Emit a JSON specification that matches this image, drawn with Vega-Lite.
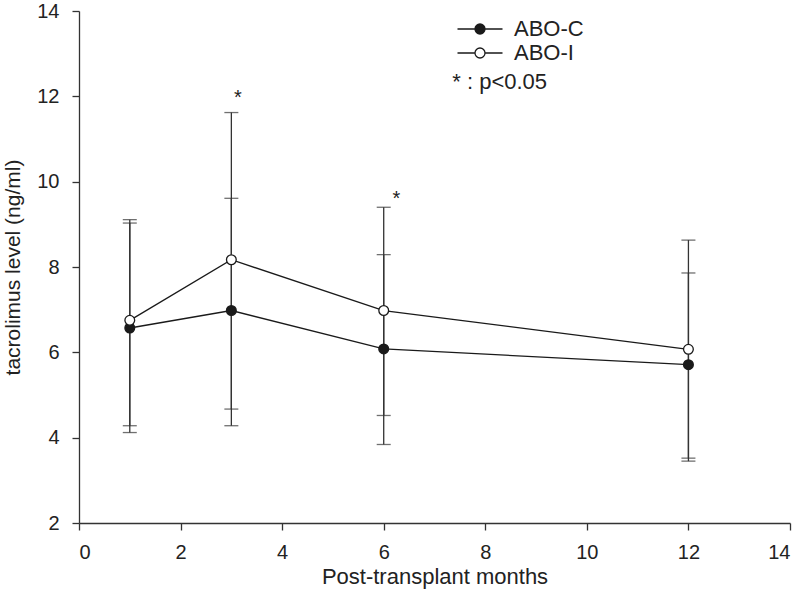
{
  "$schema": "https://vega.github.io/schema/vega-lite/v6.json",
  "width": 711,
  "height": 512,
  "autosize": {"type": "none"},
  "padding": {"left": 79, "top": 11, "right": 10, "bottom": 74},
  "background": "white",
  "config": {
    "view": {"stroke": null},
    "font": "Liberation Sans",
    "axis": {
      "grid": false,
      "domainColor": "#333333",
      "domainWidth": 1.3,
      "tickColor": "#333333",
      "tickWidth": 1.3,
      "tickSize": 7,
      "labelFont": "Liberation Sans",
      "labelFontSize": 20,
      "labelColor": "#222222",
      "titleFont": "Liberation Sans",
      "titleFontSize": 22,
      "titleFontWeight": "normal",
      "titleColor": "#222222"
    }
  },
  "datasets": {
    "stats": [
      {"month": 1, "group": "ABO-C", "mean": 6.57, "lo": 4.12, "hi": 9.03},
      {"month": 3, "group": "ABO-C", "mean": 6.98, "lo": 4.28, "hi": 9.61},
      {"month": 6, "group": "ABO-C", "mean": 6.08, "lo": 3.84, "hi": 8.29},
      {"month": 12, "group": "ABO-C", "mean": 5.71, "lo": 3.45, "hi": 7.86},
      {"month": 1, "group": "ABO-I", "mean": 6.75, "lo": 4.28, "hi": 9.11},
      {"month": 3, "group": "ABO-I", "mean": 8.17, "lo": 4.67, "hi": 11.62},
      {"month": 6, "group": "ABO-I", "mean": 6.98, "lo": 4.52, "hi": 9.4},
      {"month": 12, "group": "ABO-I", "mean": 6.07, "lo": 3.52, "hi": 8.63}
    ],
    "stars": [
      {"x": 3.13, "y": 11.82, "label": "*"},
      {"x": 6.25, "y": 9.46, "label": "*"}
    ],
    "note": [
      {"x": 7.35, "y": 12.18, "label": "* : p<0.05"}
    ]
  },
  "layer": [
    {
      "data": {"name": "stats"},
      "mark": {"type": "rule", "color": "#333333", "strokeWidth": 1.3},
      "encoding": {
        "x": {"field": "month", "type": "quantitative",
              "scale": {"domain": [0, 14], "nice": false},
              "axis": {"values": [0, 2, 4, 6, 8, 10, 12, 14], "title": "Post-transplant months", "labelPadding": 12, "titlePadding": 4}},
        "y": {"field": "lo", "type": "quantitative",
              "scale": {"domain": [2, 14], "nice": false},
              "axis": {"values": [2, 4, 6, 8, 10, 12, 14], "title": "tacrolimus level (ng/ml)", "labelPadding": 13, "titlePadding": 13, "titleFontSize": 21}},
        "y2": {"field": "hi"}
      }
    },
    {
      "data": {"name": "stats"},
      "mark": {"type": "tick", "orient": "horizontal", "color": "#333333", "size": 14, "thickness": 1.3},
      "encoding": {
        "x": {"field": "month", "type": "quantitative"},
        "y": {"field": "lo", "type": "quantitative"}
      }
    },
    {
      "data": {"name": "stats"},
      "mark": {"type": "tick", "orient": "horizontal", "color": "#333333", "size": 14, "thickness": 1.3},
      "encoding": {
        "x": {"field": "month", "type": "quantitative"},
        "y": {"field": "hi", "type": "quantitative"}
      }
    },
    {
      "data": {"name": "stats"},
      "mark": {"type": "line", "color": "#1a1a1a", "strokeWidth": 1.3},
      "encoding": {
        "x": {"field": "month", "type": "quantitative"},
        "y": {"field": "mean", "type": "quantitative"},
        "detail": {"field": "group"}
      }
    },
    {
      "data": {"name": "stats"},
      "mark": {"type": "point", "shape": "circle", "filled": true, "size": 95, "stroke": "#1a1a1a", "strokeWidth": 1.3, "opacity": 1, "fillOpacity": 1},
      "encoding": {
        "x": {"field": "month", "type": "quantitative"},
        "y": {"field": "mean", "type": "quantitative"},
        "fill": {
          "field": "group", "type": "nominal",
          "scale": {"domain": ["ABO-C", "ABO-I"], "range": ["#1a1a1a", "#ffffff"]},
          "legend": {
            "orient": "none",
            "legendX": 390,
            "legendY": 7,
            "title": null,
            "padding": 0,
            "symbolType": "M-2.25,0H-0.5M0.5,0H2.25M-0.5,0A0.5,0.5,0,1,1,0.5,0A0.5,0.5,0,1,1,-0.5,0Z",
            "symbolSize": 400,
            "symbolStrokeColor": "#1a1a1a",
            "symbolStrokeWidth": 1.3,
            "symbolOpacity": 1,
            "labelFont": "Liberation Sans",
            "labelFontSize": 22,
            "labelColor": "#222222",
            "labelOffset": 23,
            "rowPadding": 2
          }
        }
      }
    },
    {
      "data": {"name": "stars"},
      "mark": {"type": "text", "align": "center", "baseline": "alphabetic", "fontSize": 20, "color": "#222222"},
      "encoding": {
        "x": {"field": "x", "type": "quantitative"},
        "y": {"field": "y", "type": "quantitative"},
        "text": {"field": "label"}
      }
    },
    {
      "data": {"name": "note"},
      "mark": {"type": "text", "align": "left", "baseline": "alphabetic", "fontSize": 22, "color": "#222222"},
      "encoding": {
        "x": {"field": "x", "type": "quantitative"},
        "y": {"field": "y", "type": "quantitative"},
        "text": {"field": "label"}
      }
    }
  ]
}
